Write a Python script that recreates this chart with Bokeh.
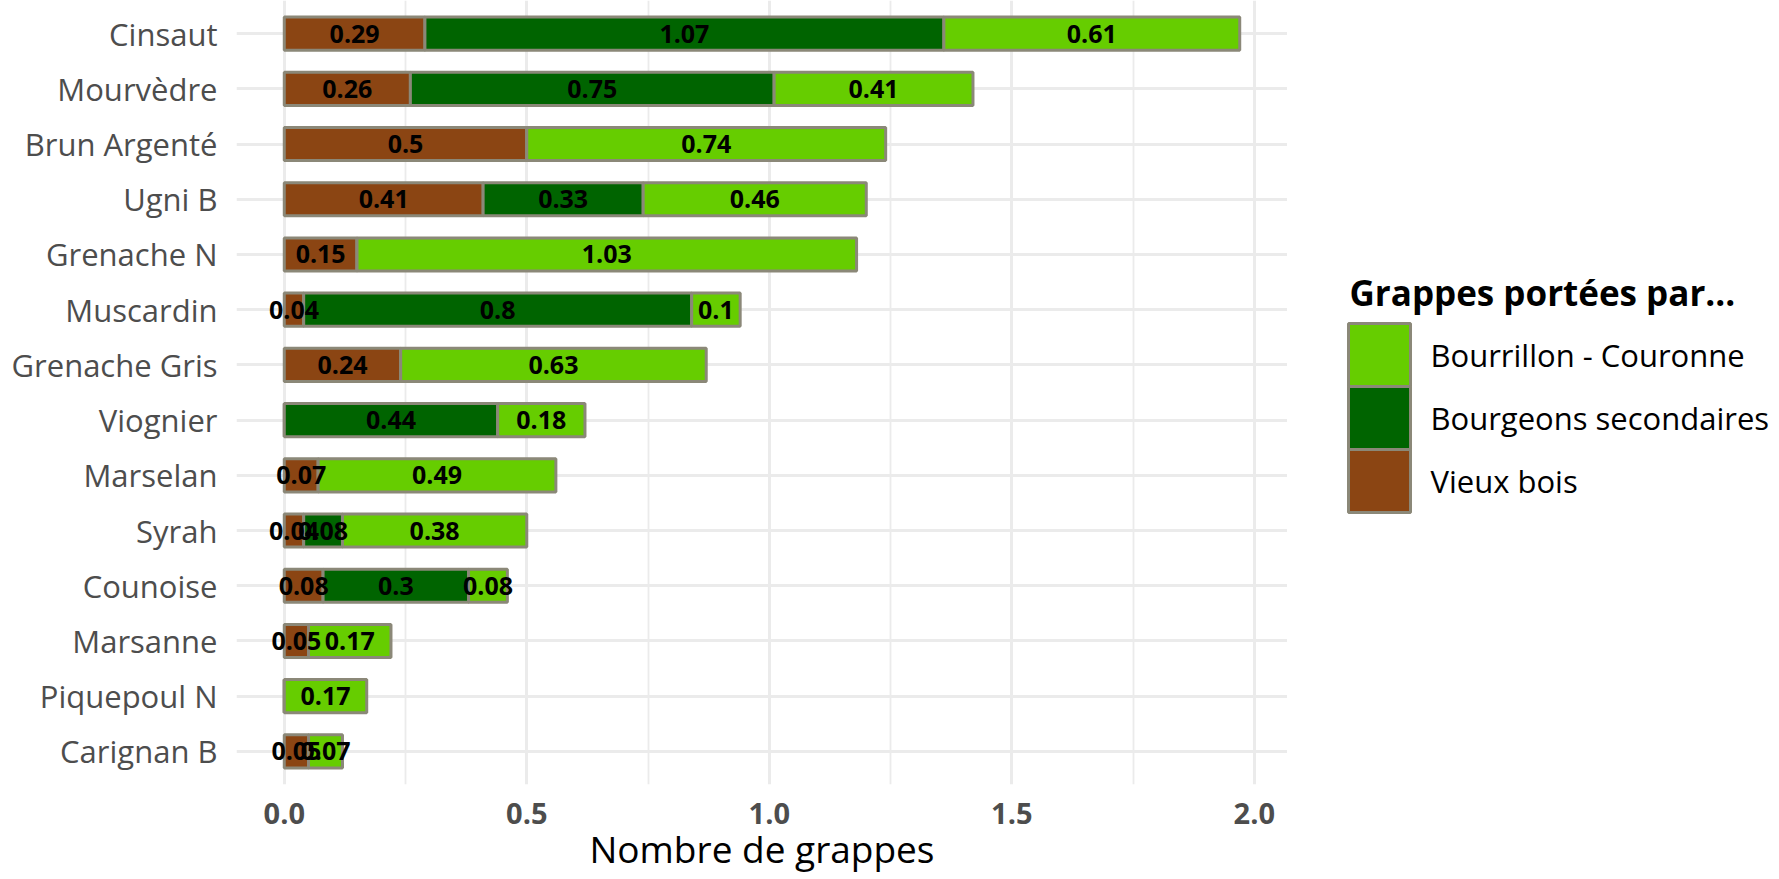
from bokeh.plotting import figure
from bokeh.layouts import row
from bokeh.models import ColumnDataSource, FactorRange, Range1d, FixedTicker
from bokeh.embed import file_html
from bokeh.resources import INLINE
from bokeh.core.properties import value

varieties = ["Cinsaut", "Mourvèdre", "Brun Argenté", "Ugni B", "Grenache N", "Muscardin",
             "Grenache Gris", "Viognier", "Marselan", "Syrah", "Counoise", "Marsanne",
             "Piquepoul N", "Carignan B"]
vieux_bois = [0.29, 0.26, 0.5, 0.41, 0.15, 0.04, 0.24, 0, 0.07, 0.04, 0.08, 0.05, 0, 0.05]
bourgeons_secondaires = [1.07, 0.75, 0, 0.33, 0, 0.8, 0, 0.44, 0, 0.08, 0.3, 0, 0, 0]
bourrillon_couronne = [0.61, 0.41, 0.74, 0.46, 1.03, 0.1, 0.63, 0.18, 0.49, 0.38, 0.08, 0.17, 0.17, 0.07]
series_names = ["Vieux bois", "Bourgeons secondaires", "Bourrillon - Couronne"]
series_colors = ["#8B4513", "#006400", "#66CD00"]
x_ticks = [0, 0.5, 1, 1.5, 2]
x_minor_ticks = [0.25, 0.75, 1.25, 1.75]
x_tick_labels = ["0.0", "0.5", "1.0", "1.5", "2.0"]
x_title = "Nombre de grappes"
legend_title = "Grappes portées par..."

FONT = "Open Sans"
OUTLINE = "#8B8878"
H = 878
BOTTOM = 94
FRAME_H = H - BOTTOM

src = ColumnDataSource(dict(variety=varieties, vb=vieux_bois, bs=bourgeons_secondaires,
                            bc=bourrillon_couronne))

p = figure(width=1287, height=H, output_backend="svg", toolbar_location=None,
           y_range=FactorRange(factors=list(reversed(varieties)), range_padding=0.1,
                               range_padding_units="absolute"),
           x_range=Range1d(-0.0985, 2.0685),
           min_border_left=236, min_border_right=0, min_border_top=0, min_border_bottom=BOTTOM)

renderers = p.hbar_stack(["vb", "bs", "bc"], y="variety", height=0.6, color=series_colors,
                         line_color=OUTLINE, line_width=3, source=src)

# segment labels
lx, ly, lt = [], [], []
series = [vieux_bois, bourgeons_secondaires, bourrillon_couronne]
for i, v in enumerate(varieties):
    left = 0.0
    for s in series:
        val = s[i]
        if val > 0:
            lx.append(left + val / 2)
            ly.append(v)
            lt.append(f"{val:g}")
        left += val
lab_src = ColumnDataSource(dict(x=lx, y=ly, t=lt))
p.text(x="x", y="y", text="t", source=lab_src, text_align="center", text_baseline="middle",
       text_font=value(FONT), text_font_style="bold", text_font_size="25px", text_color="black")

# axes
p.xaxis.ticker = FixedTicker(ticks=x_ticks, minor_ticks=x_minor_ticks)
p.xaxis.major_label_overrides = {t: l for t, l in zip(x_ticks, x_tick_labels)}
p.xaxis.axis_label = x_title
p.xaxis.axis_label_text_font = FONT
p.xaxis.axis_label_text_font_style = "normal"
p.xaxis.axis_label_text_font_size = "37px"
p.xaxis.axis_label_text_color = "black"
p.xaxis.axis_label_standoff = -4
p.xaxis.major_label_text_font = FONT
p.xaxis.major_label_text_font_style = "bold"
p.xaxis.major_label_text_font_size = "29px"
p.xaxis.major_label_text_color = "#4D4D4D"
p.xaxis.major_label_standoff = 14

p.yaxis.major_label_text_font = FONT
p.yaxis.major_label_text_font_size = "31px"
p.yaxis.major_label_text_color = "#4D4D4D"
p.yaxis.major_label_standoff = 19

for ax in (p.xaxis, p.yaxis):
    ax.axis_line_color = None
    ax.major_tick_line_color = None
    ax.minor_tick_line_color = None
    ax.major_tick_out = 0
    ax.major_tick_in = 0

p.xgrid.grid_line_color = "#EBEBEB"
p.xgrid.grid_line_width = 3
p.xgrid.minor_grid_line_color = "#EBEBEB"
p.xgrid.minor_grid_line_width = 1.8
p.ygrid.grid_line_color = "#EBEBEB"
p.ygrid.grid_line_width = 3
p.outline_line_color = None

# legend drawn as its own small panel (pixel coordinates, y downward)
LW = 490
lg = figure(width=LW, height=H, output_backend="svg", toolbar_location=None,
            x_range=Range1d(0, LW), y_range=Range1d(FRAME_H, 0),
            x_axis_location=None, y_axis_location=None,
            min_border_left=0, min_border_right=0, min_border_top=0, min_border_bottom=BOTTOM)
lg.grid.visible = False
lg.outline_line_color = None

order = [2, 1, 0]
sw_x, sw_w, sw_h, sw_top = 61, 62, 63, 323
leg_src = ColumnDataSource(dict(
    x=[sw_x + sw_w / 2] * 3,
    y=[sw_top + sw_h / 2 + k * sw_h for k in range(3)],
    color=[series_colors[k] for k in order],
    label=[series_names[k] for k in order],
    tx=[143] * 3,
))
lg.rect(x="x", y="y", width=sw_w, height=sw_h, fill_color="color", line_color=OUTLINE,
        line_width=3, source=leg_src)
lg.text(x="tx", y="y", text="label", source=leg_src, text_align="left", text_baseline="middle",
        text_font=value(FONT), text_font_size="31px", text_color="black")
lg.text(x=[62], y=[292], text=[legend_title], text_align="left", text_baseline="middle",
        text_font=value(FONT), text_font_style="bold", text_font_size="35px", text_color="black")

layout = row(p, lg, spacing=0)
open("out.html", "w").write(file_html(layout, INLINE))
